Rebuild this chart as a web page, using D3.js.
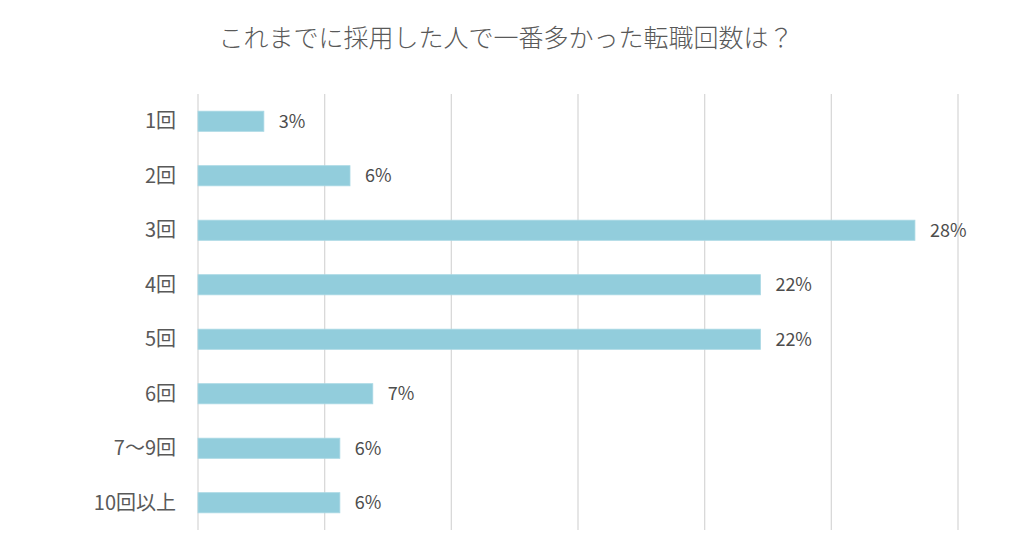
<!DOCTYPE html>
<html>
<head>
<meta charset="utf-8">
<script src="https://cdn.jsdelivr.net/npm/d3@7"></script>
<style>
  body { margin: 0; background: #fff; }
  svg text { font-family: "Noto Sans CJK JP", "Noto Sans", sans-serif; fill: #595959; }
</style>
</head>
<body>
<svg id="chart" width="1024" height="554"></svg>
<script>
// カテゴリと値 (%)
const categories = ["1回", "2回", "3回", "4回", "5回", "6回", "7〜9回", "10回以上"];
const values = [2.6, 6.0, 28.3, 22.2, 22.2, 6.9, 5.6, 5.6];
const xTicks = [0, 5, 10, 15, 20, 25, 30];
const title = "これまでに採用した人で一番多かった転職回数は？";

const margin = {top: 94, bottom: 24, left: 198, right: 66};
const width = 1024, height = 554;

const svg = d3.select("#chart");

const x = d3.scaleLinear()
    .domain([0, 30])
    .range([margin.left, width - margin.right]);
const y = d3.scaleBand()
    .domain(categories)
    .range([margin.top, height - margin.bottom])
    .paddingInner(0.63)
    .paddingOuter(0.315);

// タイトル
svg.append("text")
    .attr("x", 506)
    .attr("y", 47)
    .attr("text-anchor", "middle")
    .attr("font-size", 25)
    .attr("font-weight", 300)
    .text(title);

// グリッド線
svg.append("g")
    .selectAll("line")
    .data(xTicks)
    .enter()
    .append("line")
    .attr("x1", d => x(d))
    .attr("x2", d => x(d))
    .attr("y1", margin.top)
    .attr("y2", height - margin.bottom)
    .attr("stroke", "#d9d9d9")
    .attr("stroke-width", 1.3);

// 棒
const rows = svg.append("g")
    .selectAll(".row")
    .data(categories.map((c, i) => ({cat: c, val: values[i]})))
    .enter()
    .append("g")
    .attr("class", "row");

rows.append("rect")
    .attr("x", x(0))
    .attr("y", d => y(d.cat))
    .attr("width", d => x(d.val) - x(0))
    .attr("height", y.bandwidth())
    .attr("fill", "#92cddc")
    .attr("stroke", "#a9d8e4")
    .attr("stroke-width", 0.8);

// 値ラベル
rows.append("text")
    .attr("x", d => x(d.val) + 15)
    .attr("y", d => y(d.cat) + y.bandwidth() / 2)
    .attr("dy", "0.36em")
    .attr("font-size", 18)
    .attr("font-family", "Noto Sans, sans-serif")
    .style("fill", "#4d4d4d")
    .text(d => d3.format(".0f")(d.val) + "%");

// カテゴリラベル
rows.append("text")
    .attr("x", 176)
    .attr("y", d => y(d.cat) + y.bandwidth() / 2)
    .attr("dy", "0.36em")
    .attr("text-anchor", "end")
    .attr("font-size", 20)
    .text(d => d.cat);
</script>
</body>
</html>
